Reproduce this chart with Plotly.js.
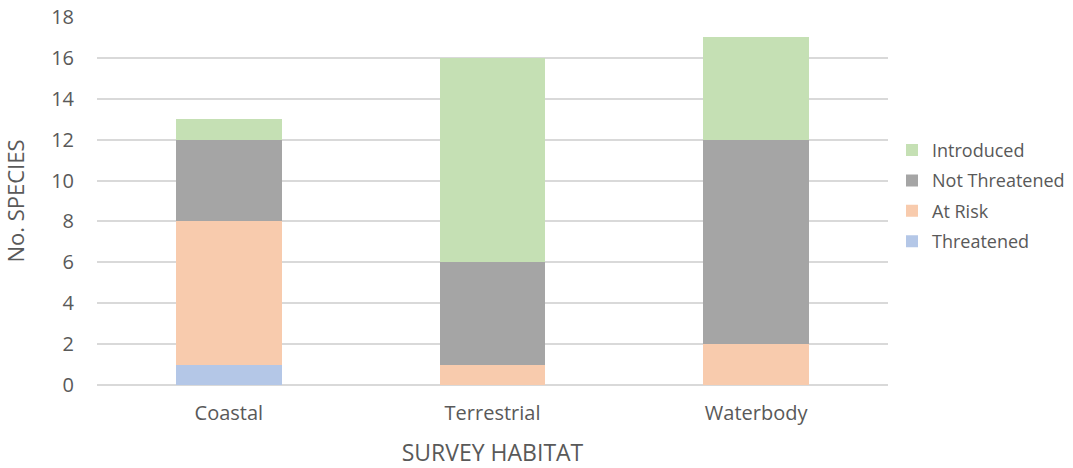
<!DOCTYPE html>
<html><head><meta charset="utf-8">
<script src="https://cdn.plot.ly/plotly-3.0.1.min.js"></script>
<style>html,body{margin:0;padding:0;background:#fff;}#chart{width:1073px;height:468px;}</style>
</head><body><div id="chart"></div>
<script>
const categories = ["Coastal", "Terrestrial", "Waterbody"];
const threatened = [1, 0, 0];
const atRisk = [7, 1, 2];
const notThreatened = [4, 5, 10];
const introduced = [1, 10, 5];
const seriesNames = ["Threatened", "At Risk", "Not Threatened", "Introduced"];
const seriesColors = ["#b4c7e7", "#f8cbad", "#a5a5a5", "#c5e0b4"];
const seriesValues = [threatened, atRisk, notThreatened, introduced];

const traces = seriesValues.map((v, i) => ({
  type: "bar", name: seriesNames[i], x: categories, y: v,
  legendgroup: "g" + i, legendrank: 1000 - i,
  marker: {color: seriesColors[i]}, hoverinfo: "x+y+name"
}));

const font = {family: "Open Sans, Liberation Sans, sans-serif", color: "#595959"};
Plotly.newPlot("chart", traces, {
  width: 1073, height: 468, barmode: "stack", bargap: 0.6,
  margin: {l: 97, r: 185, t: 17, b: 83},
  paper_bgcolor: "#fff", plot_bgcolor: "#fff",
  font: Object.assign({size: 18}, font),
  xaxis: {showgrid: false, zeroline: false, showline: false, ticks: "",
          ticklabelstandoff: 14,
          tickfont: {size: 20, color: "#595959"},
          title: {text: "SURVEY HABITAT", font: {size: 23, color: "#595959"}, standoff: 22}},
  yaxis: {range: [0, 18], dtick: 2, showgrid: true, gridcolor: "#d9d9d9", gridwidth: 1.5,
          zeroline: true, zerolinecolor: "#d9d9d9", zerolinewidth: 1.5, showline: false, ticks: "",
          ticklabelstandoff: 22,
          tickfont: {size: 20, color: "#595959"},
          title: {text: "No. SPECIES", font: {size: 22, color: "#595959"}, standoff: 20}},
  legend: {xref: "container", x: 892/1073, y: 0.514, yanchor: "middle", xanchor: "left", traceorder: "grouped",
           font: {size: 18, color: "#595959"}, itemwidth: 30, tracegroupgap: 4, bgcolor: "rgba(0,0,0,0)"},
  showlegend: true
}, {displayModeBar: false});
</script></body></html>
